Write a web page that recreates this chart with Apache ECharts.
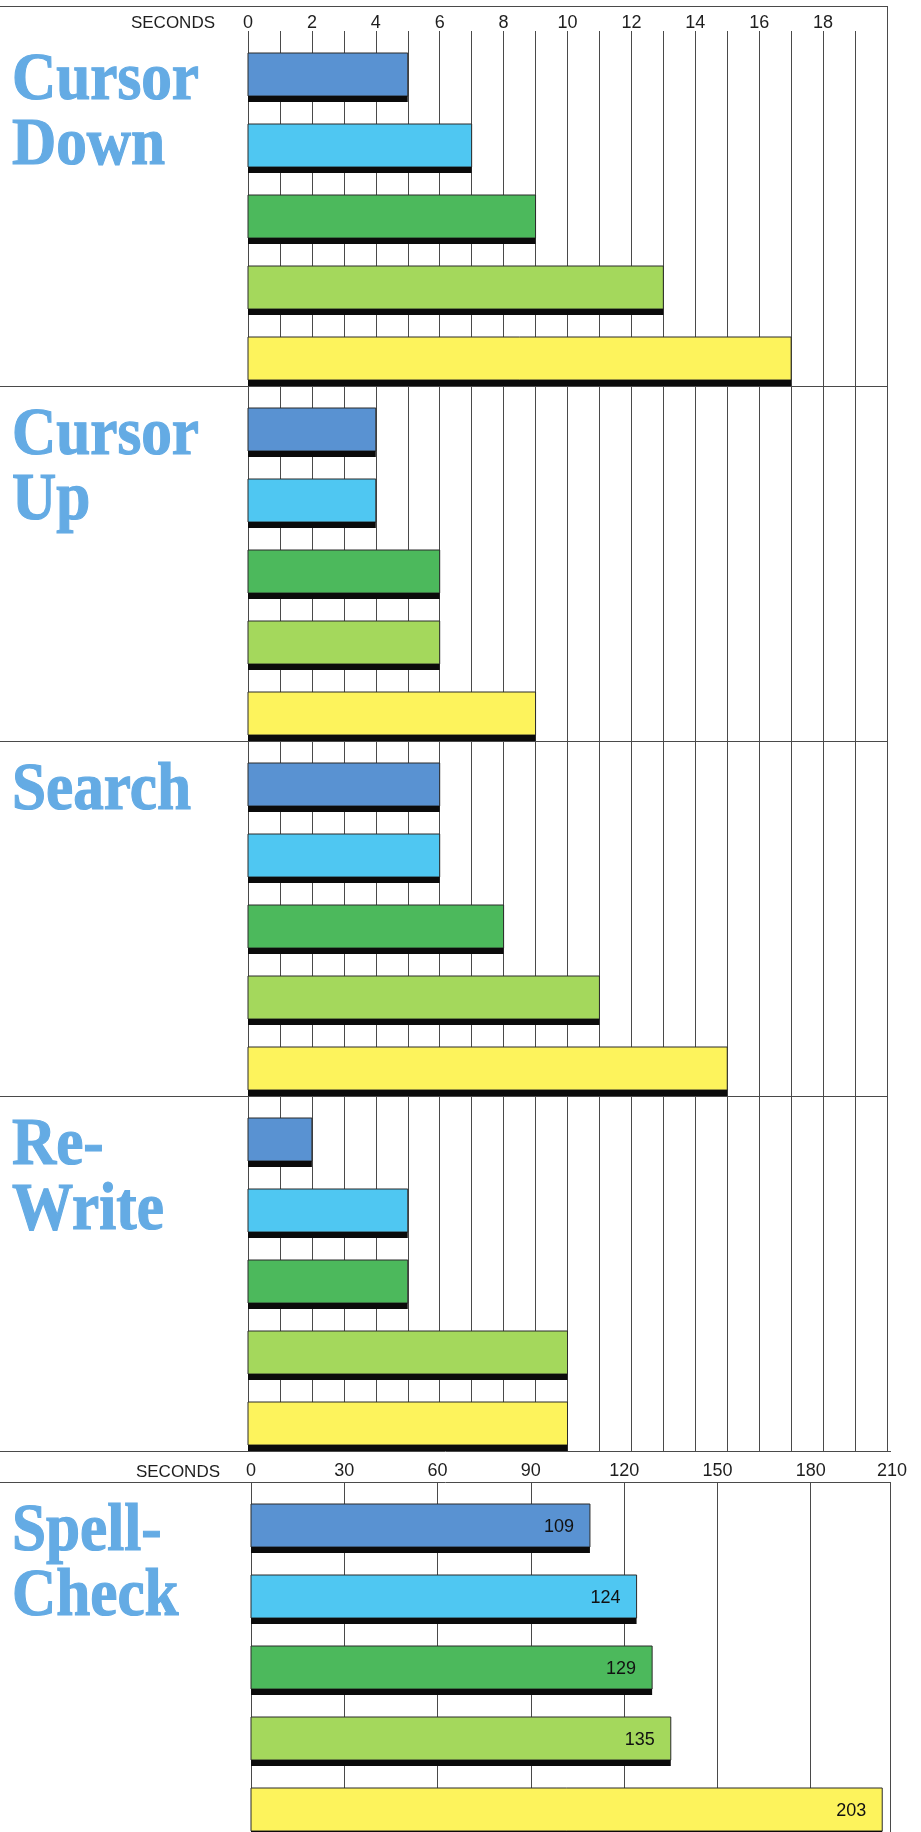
<!DOCTYPE html>
<html>
<head>
<meta charset="utf-8">
<script src="https://cdn.jsdelivr.net/npm/echarts@6/dist/echarts.min.js"></script>
<style>
  html, body { margin: 0; padding: 0; background: #ffffff; }
  #chart { width: 921px; height: 1832px; }
</style>
</head>
<body>
<div id="chart"></div>
<script>
// Editing operations timed in seconds (five machines, one colour each)
const sections     = ['Cursor\nDown', 'Cursor\nUp', 'Search', 'Re-\nWrite'];
const spellSection = ['Spell-\nCheck'];

const timesBlue   = [5, 4, 6, 2];
const timesCyan   = [7, 4, 6, 5];
const timesGreen  = [9, 6, 8, 5];
const timesLime   = [13, 6, 11, 10];
const timesYellow = [17, 9, 15, 10];

const spellCheck  = [109, 124, 129, 135, 203];

const shortTickLabels = [0, 2, 4, 6, 8, 10, 12, 14, 16, 18];
const longTickLabels  = [0, 30, 60, 90, 120, 150, 180, 210];

// ---- styling / layout ----
const rowColours = ['#5992d2', '#4fc7f2', '#4cb95c', '#a4d85c', '#fdf35c'];
const shortRows  = [timesBlue, timesCyan, timesGreen, timesLime, timesYellow];
const GRID_LINE  = '#4a4a4a';
const TEXT_DARK  = '#1e1e1e';
const TITLE_BLUE = '#64abe4';
const GAP_FRAC   = 22 / 71;   // white space above each bar within its row
const STRIP_FRAC = 6 / 71;    // black base strip under each bar

const chart = echarts.init(document.getElementById('chart'), null, { renderer: 'canvas' });

function makeRender(k, withValue) {
  return function (params, api) {
    const v = api.value(0);
    const c = api.value(1);
    const base = api.coord([0, c]);
    const tip  = api.coord([v, c]);
    const band = api.size([0, 1])[1];
    const slot = band / 5;
    const top  = base[1] - band / 2 + slot * k + slot * GAP_FRAC;
    const h    = slot * (1 - GAP_FRAC);
    const s    = slot * STRIP_FRAC;
    const w    = tip[0] - base[0];
    const children = [
      { type: 'rect', shape: { x: base[0], y: top, width: w, height: h - s },
        style: { fill: rowColours[k], stroke: '#2b2b2b', lineWidth: 1 } },
      { type: 'rect', shape: { x: base[0], y: top + h - s, width: w, height: s },
        style: { fill: '#0b0b0b' } }
    ];
    if (withValue) {
      children.push({ type: 'text', style: {
        text: String(v), x: tip[0] - 16, y: top + (h - s) / 2 + 2,
        align: 'right', verticalAlign: 'middle',
        font: '18px "Liberation Sans"', fill: '#111111' } });
    }
    return { type: 'group', children: children };
  };
}

const series = [];
shortRows.forEach(function (row, k) {
  series.push({
    type: 'custom', xAxisIndex: 0, yAxisIndex: 0, silent: true,
    renderItem: makeRender(k, false),
    encode: { x: 0, y: 1 },
    data: row.map(function (v, i) { return [v, i]; })
  });
});
spellCheck.forEach(function (v, k) {
  series.push({
    type: 'custom', xAxisIndex: 1, yAxisIndex: 1, silent: true,
    renderItem: makeRender(k, true),
    encode: { x: 0, y: 1 },
    data: [[v, 0]]
  });
});

const axisFont = { fontFamily: 'Liberation Sans', fontSize: 18, color: TEXT_DARK };

const option = {
  animation: false,
  backgroundColor: '#ffffff',
  grid: [
    { left: 248, top: 31, width: 639, height: 1420, containLabel: false, outerBoundsMode: 'none' },
    { left: 251, top: 1482, width: 653, height: 355, containLabel: false, outerBoundsMode: 'none' }
  ],
  xAxis: [
    {
      gridIndex: 0, type: 'value', position: 'top', min: 0, max: 20, interval: 1,
      name: 'SECONDS', nameLocation: 'start', nameGap: 33,
      nameTextStyle: { fontFamily: 'Liberation Sans', fontSize: 17, color: TEXT_DARK,
                       verticalAlign: 'bottom', lineHeight: 16 },
      axisLine: { show: false }, axisTick: { show: false },
      axisLabel: Object.assign({}, axisFont, {
        margin: 0, lineHeight: 16,
        formatter: function (v) { return shortTickLabels.indexOf(v) >= 0 ? String(v) : ''; }
      }),
      splitLine: { show: true, lineStyle: { color: GRID_LINE, width: 1 } }
    },
    {
      gridIndex: 1, type: 'value', position: 'top', min: 0, max: 210, interval: 30,
      name: 'SECONDS', nameLocation: 'start', nameGap: 31,
      nameTextStyle: { fontFamily: 'Liberation Sans', fontSize: 17, color: TEXT_DARK,
                       verticalAlign: 'bottom', lineHeight: 20 },
      axisLine: { show: false }, axisTick: { show: false },
      axisLabel: Object.assign({}, axisFont, {
        margin: 2, lineHeight: 18,
        formatter: function (v) {
          if (longTickLabels.indexOf(v) < 0) return '';
          return v === longTickLabels[longTickLabels.length - 1] ? '{end|' + v + '}' : String(v);
        },
        rich: { end: { fontFamily: 'Liberation Sans', fontSize: 18, color: TEXT_DARK, padding: [0, 24, 0, 0] } }
      }),
      splitLine: { show: true, showMaxLine: false, lineStyle: { color: GRID_LINE, width: 1 } }
    }
  ],
  yAxis: [
    { gridIndex: 0, type: 'category', data: sections, inverse: true, show: false },
    { gridIndex: 1, type: 'category', data: spellSection, inverse: true, show: false }
  ],
  series: series
};

chart.setOption(option);

// ---- frame, dividers and section titles, placed from the axes ----
const xPix = function (axis, v) { return chart.convertToPixel({ xAxisIndex: axis }, v); };
const yPix = function (axis, c) { return chart.convertToPixel({ yAxisIndex: axis }, c); };

const band0   = yPix(0, 1) - yPix(0, 0);
const top0    = yPix(0, 0) - band0 / 2;
const band1   = band0; // both panels use the same row pitch
const top1    = yPix(1, 0) - band1 / 2;
const rightX  = xPix(0, 20);
const rightX2 = rightX + 3;
const frameTop = top0 - 25;

function hLine(y, x1, x2) {
  const yy = Math.round(y) + 0.5;
  return { type: 'line', silent: true, z: 50,
           shape: { x1: x1, y1: yy, x2: x2, y2: yy },
           style: { stroke: GRID_LINE, lineWidth: 1 } };
}
function vLine(x, y1, y2) {
  const xx = Math.round(x) + 0.5;
  return { type: 'line', silent: true, z: 50,
           shape: { x1: xx, y1: y1, x2: xx, y2: y2 },
           style: { stroke: GRID_LINE, lineWidth: 1 } };
}

const graphics = [];
graphics.push(hLine(frameTop, 0, rightX + 1));
graphics.push(vLine(rightX, frameTop, top0 + band0 * sections.length));
for (let i = 1; i <= sections.length; i++) {
  graphics.push(hLine(top0 + band0 * i, 0, i === sections.length ? rightX2 + 1 : rightX + 1));
}
graphics.push(hLine(top1, 0, rightX2 + 1));
graphics.push(vLine(rightX2, top1, top1 + band1 + 20));

function titleText(label, bandTop) {
  return { type: 'text', silent: true, z: 60,
           x: 12, y: bandTop + 18, scaleX: 0.9, scaleY: 1,
           style: { text: label, x: 0, y: 0, align: 'left', verticalAlign: 'top',
                    font: 'bold 68px "Liberation Serif"', lineHeight: 65,
                    fill: TITLE_BLUE, stroke: TITLE_BLUE, lineWidth: 1.2 } };
}
sections.forEach(function (label, i) { graphics.push(titleText(label, top0 + band0 * i)); });
graphics.push(titleText(spellSection[0], top1));

chart.setOption({ graphic: graphics });
</script>
</body>
</html>
